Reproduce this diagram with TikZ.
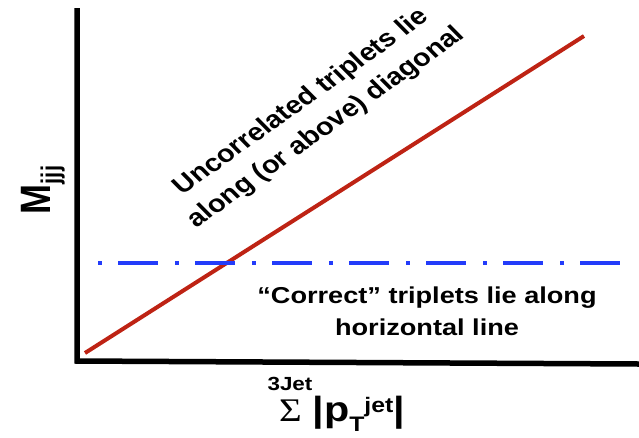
\documentclass[tikz,border=0pt]{standalone}
\usepackage{fontspec}
\setmainfont{Liberation Sans}
\newfontfamily\serifsym{Liberation Serif}
\definecolor{diagred}{RGB}{190,35,20}
\definecolor{dashblue}{RGB}{35,60,250}
\begin{document}
\begin{tikzpicture}[x=1pt,y=-1pt,
  axis/.style={line width=5.5pt, line join=miter},
  diagline/.style={diagred, line width=4pt},
  horline/.style={dashblue, line width=4pt, dash pattern=on 4pt off 16pt on 40pt off 17pt},
  lbl/.style={font=\bfseries\fontsize{23}{32}\selectfont, align=center, inner sep=0pt},
  rotlbl/.style={font=\bfseries\fontsize{24.5}{33}\selectfont, align=center, inner sep=0pt}]
\useasboundingbox (0,0) rectangle (639,437);
\coordinate (ytop) at (77,8);
\coordinate (O) at (77,361);
\coordinate (xend) at (639,364);
\draw[axis] (ytop) -- (O) -- (xend);
\coordinate (r1) at (85,353);
\coordinate (r2) at (584,36);
\draw[diagline] (r1) -- (r2);
\coordinate (b1) at (98,263);
\coordinate (b2) at (620,263);
\draw[horline] (b1) -- (b2);
\node[rotlbl, xscale=1.18, rotate=40] (unc) at (314,115) {Uncorrelated triplets lie\\along (or above) diagonal};
\node[lbl, xscale=1.18] (cor) at (427,311) {“Correct” triplets lie along\\horizontal line};
\node[xscale=1.18, rotate=90, inner sep=0pt, anchor=base] (ylab) at (50,190) {\bfseries\fontsize{36}{36}\selectfont M\raisebox{-8pt}{\fontsize{22}{22}\selectfont jjj}};
\node[xscale=1.18, inner sep=0pt, anchor=base] (three) at (290,390) {\bfseries\fontsize{19}{19}\selectfont 3Jet};
\node[xscale=1.18, inner sep=0pt, anchor=base west] (sum) at (279,421) {{\serifsym\fontsize{33}{33}\selectfont Σ}\hspace{9pt}{\bfseries\fontsize{35}{35}\selectfont |p\raisebox{-10pt}{\fontsize{21}{21}\selectfont T}\raisebox{9pt}{\fontsize{21}{21}\selectfont jet}|}};
\end{tikzpicture}
\end{document}
